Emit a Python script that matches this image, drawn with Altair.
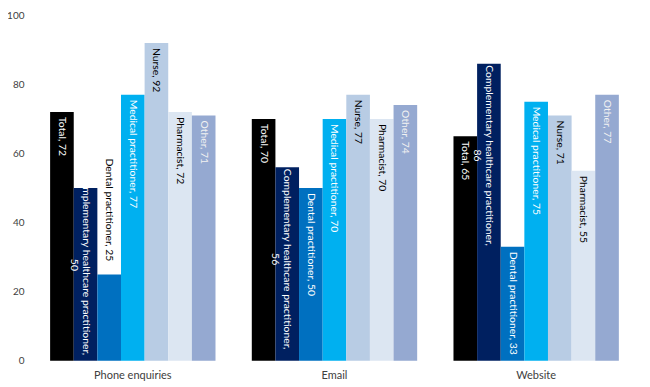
import altair as alt
import pandas as pd

groups = ["Phone enquiries", "Email", "Website"]
series = ["Total", "Complementary healthcare practitioner", "Dental practitioner",
          "Medical practitioner", "Nurse", "Pharmacist", "Other"]
phone = [72, 50, 25, 77, 92, 72, 71]
email = [70, 56, 50, 70, 77, 70, 74]
website = [65, 86, 33, 75, 71, 55, 77]
bar_colors = ["#000000", "#002060", "#0070C0", "#00B0F0", "#B8CCE4", "#DCE6F2", "#95A9D1"]
text_colors = ["#FFFFFF", "#FFFFFF", "#FFFFFF", "#FFFFFF", "#000000", "#000000", "#F2F2F2"]
y_ticks = [0, 20, 40, 60, 80, 100]

rows = []
for g, vals in zip(groups, [phone, email, website]):
    for i, (s, v) in enumerate(zip(series, vals)):
        if s.startswith("Complementary"):
            label = f"{s},\n{v}"
        else:
            label = f"{s}, {v}"
        rows.append({"group": g, "series": s, "value": v, "label": label,
                     "order": i, "tcolor": text_colors[i], "zero": 0})
df = pd.DataFrame(rows)

FONT = "Lato"
LFS = 10.4

x_enc = alt.X("group:N", sort=groups, title=None,
              scale=alt.Scale(paddingInner=0.18, paddingOuter=0.09),
              axis=alt.Axis(labelAngle=0, domain=False, ticks=False, labelPadding=9,
                            labelFont=FONT, labelFontSize=11, labelColor="#404040"))
xo_enc = alt.XOffset("series:N", sort=series, scale=alt.Scale(paddingInner=0, paddingOuter=0))
y_scale = alt.Scale(domain=[0, 100], nice=False)
y_axis = alt.Axis(values=y_ticks, grid=False, domain=False, ticks=False,
                  labelPadding=8, labelFont=FONT, labelFontSize=10,
                  labelColor="#404040")
y_enc = alt.Y("value:Q", title=None, scale=y_scale, axis=y_axis)
y_zero = alt.Y("zero:Q", title=None, scale=y_scale, axis=y_axis)

base = alt.Chart(df)

bars = base.mark_bar().encode(
    x=x_enc, xOffset=xo_enc, y=y_enc,
    color=alt.Color("series:N", sort=series,
                    scale=alt.Scale(domain=series, range=bar_colors), legend=None),
)

is_comp = "indexof(datum.series, 'Complementary') == 0"
is_phone = "datum.group == 'Phone enquiries'"

main_labels = base.transform_filter(
    f"!({is_comp}) && !({is_phone} && datum.series == 'Dental practitioner')"
).mark_text(angle=90, align="left", baseline="middle", dx=5,
            font=FONT, fontSize=LFS).encode(
    x=x_enc, xOffset=xo_enc, y=y_enc,
    text="label:N", color=alt.Color("tcolor:N", scale=None),
)

dental_phone = base.transform_filter(
    f"{is_phone} && datum.series == 'Dental practitioner'"
).mark_text(angle=90, align="right", baseline="middle", dx=-13,
            font=FONT, fontSize=LFS, color="#000000").encode(
    x=x_enc, xOffset=xo_enc, y=y_enc, text="label:N",
)

comp_other = base.transform_filter(
    f"({is_comp}) && !({is_phone})"
).mark_text(angle=90, align="center", baseline="middle", dx=92, lineBreak="\n",
            lineHeight=12, font=FONT, fontSize=LFS, color="#FFFFFF").encode(
    x=x_enc, xOffset=xo_enc, y=y_enc, text="label:N",
)

comp_phone = base.transform_filter(
    f"({is_comp}) && {is_phone}"
).mark_text(angle=90, align="center", baseline="middle", dx=-96, lineBreak="\n",
            lineHeight=12, font=FONT, fontSize=LFS, color="#FFFFFF").encode(
    x=x_enc, xOffset=xo_enc, y=y_zero, text="label:N",
)

chart = alt.layer(bars, main_labels, dental_phone, comp_other, comp_phone).properties(
    width=606, height=346, background="#FFFFFF",
    padding={"left": 24, "top": 7, "right": 5, "bottom": 22},
    autosize=alt.AutoSizeParams(type="none"),
).configure_view(strokeWidth=0, stroke="transparent")

chart.save("out.html", embed_options={"renderer": "svg", "actions": False})
